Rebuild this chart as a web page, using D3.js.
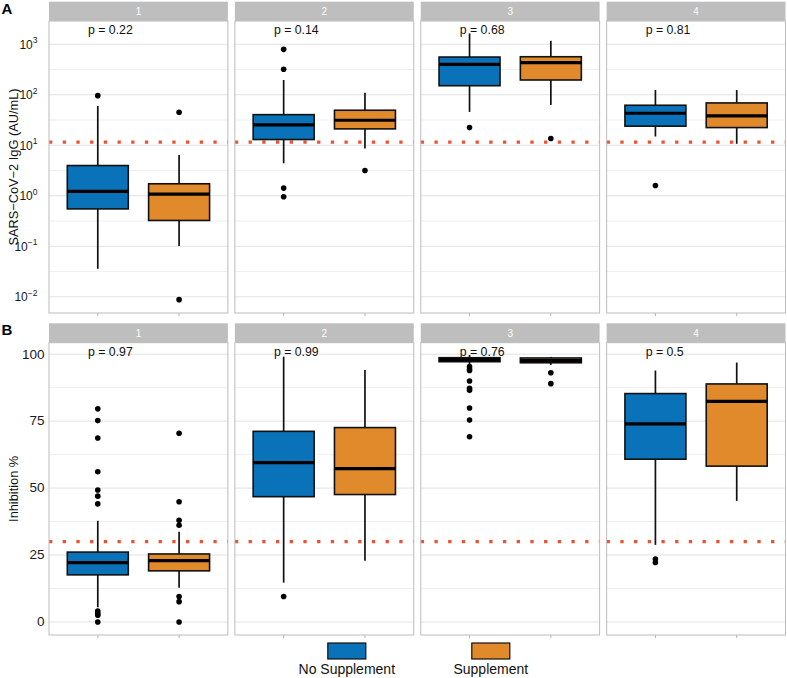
<!DOCTYPE html>
<html>
<head>
<meta charset="utf-8">
<title>IgG and inhibition by supplement</title>
<style>
  body { margin: 0; background: #fff; }
  svg { font-family: "Liberation Sans", Arial, sans-serif; }
</style>
</head>
<body>
<svg id="chart" width="787" height="678"></svg>
<script src="https://cdn.jsdelivr.net/npm/d3@7/dist/d3.min.js"></script>
<script>
// facets (time points) and the two groups
var facets = ["1", "2", "3", "4"];
var groups = ["No Supplement", "Supplement"];
var groupColors = ["#0a72b8", "#e08a2b"];

// panel A: SARS-CoV-2 IgG (AU/mL), box stats = [lower whisker, q1, median, q3, upper whisker]
var iggNoSupp = [[0.036, 0.55, 1.22, 3.97, 60], [4.4, 13, 25.3, 40.4, 196], [45.7, 151, 401, 558, 1640], [14.9, 23.9, 43, 62, 124]];
var iggSupp = [[0.101, 0.325, 1.08, 1.73, 6.4], [8.6, 21.1, 31.3, 49.4, 110], [62.9, 196, 431, 566, 1170], [10.7, 22.4, 38.1, 68.9, 124]];
var iggNoSuppOut = [[96], [793, 319, 1.42, 0.955], [22.4], [1.6]];
var iggSuppOut = [[45, 0.0088], [3.16], [13.6], []];
var iggP = ["p = 0.22", "p = 0.14", "p = 0.68", "p = 0.81"];
var iggCutoff = 11.5;
var iggTickExp = [-2, -1, 0, 1, 2, 3];
var iggMinorExp = [-1.5, -0.5, 0.5, 1.5, 2.5];

// panel B: inhibition %
var inhNoSupp = [[5.5, 17.6, 22.2, 26.1, 37.8], [14.7, 46.8, 59.5, 71.2, 99.1], [96.3, 97.2, 98.0, 98.7, 99.7], [28.8, 60.8, 74.0, 85.3, 93.9]];
var inhSupp = [[12.8, 19.1, 22.9, 25.4, 33.7], [22.9, 47.6, 57.3, 72.6, 94.1], [96.0, 96.8, 97.6, 98.6, 99.0], [45.2, 58.2, 82.4, 88.9, 96.9]];
var inhNoSuppOut = [[79.6, 75.2, 68.7, 56.1, 49.3, 47.0, 44.1, 4.1, 3.2, 2.5, 0], [9.5], [95.4, 94.5, 93.9, 90.0, 87.3, 86.5, 79.9, 75.4, 69.2], [23.5, 22.2]];
var inhSuppOut = [[70.5, 44.9, 38.0, 36.1, 9.5, 7.6, 0], [], [93.1, 89.0], []];
var inhP = ["p = 0.97", "p = 0.99", "p = 0.76", "p = 0.5"];
var inhCutoff = 30;
var inhTicks = [0, 25, 50, 75, 100];
var inhMinor = [12.5, 37.5, 62.5, 87.5];

var svg = d3.select("#chart");

var fx = d3.scaleBand().domain(facets).range([49, 785.5]).paddingInner(0.0377);
var w = fx.bandwidth();
var gx = d3.scaleLinear().domain([0.4, 2.6]).range([0, w]);
var halfBox = 0.375;

var rows = [
    {
        tag: "A", tagY: 13.5, stripTop: 1.7, top: 21, bottom: 313,
        y: d3.scaleLog().domain([Math.pow(10, -2.32), Math.pow(10, 3.46)]).range([313, 21]),
        stats: [iggNoSupp, iggSupp], outs: [iggNoSuppOut, iggSuppOut],
        pvals: iggP, cutoff: iggCutoff,
        major: iggTickExp.map(function(e){ return Math.pow(10, e); }),
        minor: iggMinorExp.map(function(e){ return Math.pow(10, e); }),
        title: "SARS\u2212CoV\u22122 IgG (AU/mL)", log: true, labelRight: 37.5
    },
    {
        tag: "B", tagY: 335, stripTop: 323.3, top: 342.7, bottom: 635,
        y: d3.scaleLinear().domain([-4.86, 104.3]).range([635, 342.7]),
        stats: [inhNoSupp, inhSupp], outs: [inhNoSuppOut, inhSuppOut],
        pvals: inhP, cutoff: inhCutoff,
        major: inhTicks, minor: inhMinor,
        title: "Inhibition %", log: false, labelRight: 44.5
    }
];

rows.forEach(function(row){
    var y = row.y;
    var g = svg.append("g");

    facets.forEach(function(f, fi){
        var p = g.append("g").attr("transform", "translate(" + fx(f) + ",0)");

        // strip
        p.append("rect")
            .attr("x", 0).attr("y", row.stripTop)
            .attr("width", w).attr("height", row.top - row.stripTop)
            .attr("fill", "#bebebe");
        p.append("text")
            .attr("x", w / 2).attr("y", (row.stripTop + row.top) / 2 + 3.5)
            .attr("text-anchor", "middle")
            .attr("font-size", 10).attr("fill", "#fff")
            .text(f);

        // grid
        p.selectAll("line.minor").data(row.minor).enter().append("line")
            .attr("class", "minor")
            .attr("x1", 0).attr("x2", w)
            .attr("y1", function(d){ return y(d); }).attr("y2", function(d){ return y(d); })
            .attr("stroke", "#efefef").attr("stroke-width", 1);
        p.selectAll("line.major").data(row.major).enter().append("line")
            .attr("class", "major")
            .attr("x1", 0).attr("x2", w)
            .attr("y1", function(d){ return y(d); }).attr("y2", function(d){ return y(d); })
            .attr("stroke", "#e2e2e2").attr("stroke-width", 1);

        // cutoff line
        p.append("line")
            .attr("x1", 0).attr("x2", w)
            .attr("y1", y(row.cutoff)).attr("y2", y(row.cutoff))
            .attr("stroke", "#ef4f32").attr("stroke-width", 3.3)
            .attr("stroke-dasharray", "3.3 10.4");

        groups.forEach(function(grp, gi){
            var s = row.stats[gi][fi];
            var cx = gx(gi + 1);
            var x0 = gx(gi + 1 - halfBox), x1 = gx(gi + 1 + halfBox);

            // whiskers
            p.append("line").attr("x1", cx).attr("x2", cx)
                .attr("y1", y(s[3])).attr("y2", y(s[4]))
                .attr("stroke", "#111").attr("stroke-width", 1.7);
            p.append("line").attr("x1", cx).attr("x2", cx)
                .attr("y1", y(s[1])).attr("y2", y(s[0]))
                .attr("stroke", "#111").attr("stroke-width", 1.7);
            // box
            p.append("rect")
                .attr("x", x0).attr("y", y(s[3]))
                .attr("width", x1 - x0).attr("height", y(s[1]) - y(s[3]))
                .attr("fill", groupColors[gi])
                .attr("stroke", "#111").attr("stroke-width", 1.6);
            // median
            p.append("line").attr("x1", x0).attr("x2", x1)
                .attr("y1", y(s[2])).attr("y2", y(s[2]))
                .attr("stroke", "#000").attr("stroke-width", 3.2);
            // outliers
            p.selectAll("circle.g" + gi).data(row.outs[gi][fi]).enter().append("circle")
                .attr("class", "g" + gi)
                .attr("cx", cx).attr("cy", function(d){ return y(d); })
                .attr("r", 2.8).attr("fill", "#000");
            // x tick
            p.append("line").attr("x1", cx).attr("x2", cx)
                .attr("y1", row.bottom).attr("y2", row.bottom + 3)
                .attr("stroke", "#b3b3b3").attr("stroke-width", 1);
        });

        // p value
        p.append("text")
            .attr("x", gx(0.88)).attr("y", row.top + 12.8)
            .attr("font-size", 12.3).attr("fill", "#111")
            .text(row.pvals[fi]);

        // border
        p.append("rect")
            .attr("x", 0).attr("y", row.top)
            .attr("width", w).attr("height", row.bottom - row.top)
            .attr("fill", "none").attr("stroke", "#bcbcbc").attr("stroke-width", 1);
    });

    // y tick labels
    var labels = g.selectAll("text.tick").data(row.major).enter().append("text")
        .attr("class", "tick")
        .attr("x", row.labelRight)
        .attr("y", function(d){ return y(d) + 4.3; })
        .attr("text-anchor", "end")
        .attr("fill", "#1a1a1a");
    if (row.log) {
        labels.attr("font-size", 12);
        labels.append("tspan").text("10");
        labels.append("tspan")
            .attr("dy", -5.5).attr("font-size", 8.5)
            .text(function(d){ return String(Math.round(Math.log10(d))).replace("-", "\u2212"); });
    } else {
        labels.attr("font-size", 13.5).text(function(d){ return d; });
    }

    // y title
    g.append("text")
        .attr("transform", "translate(18.3," + ((row.top + row.bottom) / 2) + ") rotate(-90)")
        .attr("text-anchor", "middle")
        .attr("font-size", 12.8).attr("fill", "#111")
        .text(row.title);

    // panel tag
    g.append("text")
        .attr("x", 1.5).attr("y", row.tagY)
        .attr("font-size", 15).attr("font-weight", "bold")
        .text(row.tag);
});

// legend
var legendX = d3.scalePoint().domain(groups).range([346.8, 490.8]);
var legend = svg.append("g");
legend.selectAll("rect").data(groups).enter().append("rect")
    .attr("x", function(d){ return legendX(d) - 19; })
    .attr("y", 643)
    .attr("width", 38).attr("height", 16)
    .attr("fill", function(d, i){ return groupColors[i]; })
    .attr("stroke", "#111").attr("stroke-width", 1.2);
legend.selectAll("text").data(groups).enter().append("text")
    .attr("x", function(d){ return legendX(d); })
    .attr("y", 673.5)
    .attr("text-anchor", "middle")
    .attr("font-size", 14).attr("fill", "#111")
    .text(function(d){ return d; });
</script>
</body>
</html>
